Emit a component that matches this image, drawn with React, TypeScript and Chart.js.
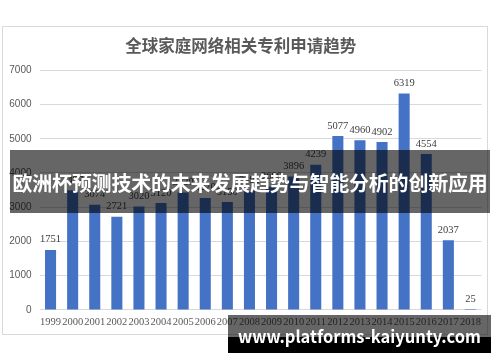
import React, { useEffect, useRef } from "react";
import { Chart, registerables } from "chart.js";

Chart.register(...registerables);

const chartTitle = "全球家庭网络相关专利申请趋势";
const years = ["1999", "2000", "2001", "2002", "2003", "2004", "2005", "2006", "2007", "2008", "2009", "2010", "2011", "2012", "2013", "2014", "2015", "2016", "2017", "2018"];
const applications = [1751, 3497, 3074, 2721, 3020, 3120, 3430, 3270, 3150, 3490, 3600, 3896, 4239, 5077, 4960, 4902, 6319, 4554, 2037, 25];
const bannerText = "欧洲杯预测技术的未来发展趋势与智能分析的创新应用";
const watermarkText = "www.platforms-kaiyunty.com";

const framePlugin = {
  id: "frame",
  beforeDraw(chart: any) {
    const ctx = chart.ctx;
    ctx.save();
    ctx.fillStyle = "#ffffff";
    ctx.fillRect(0, 0, chart.width, chart.height);
    ctx.strokeStyle = "#d9d9d9";
    ctx.lineWidth = 1;
    ctx.strokeRect(2.5, 26.5, 485, 308);
    ctx.restore();
  },
};

const valueLabelPlugin = {
  id: "valueLabels",
  afterDatasetsDraw(chart: any) {
    const ctx = chart.ctx;
    const meta = chart.getDatasetMeta(0);
    const data = chart.data.datasets[0].data;
    ctx.save();
    ctx.font = "10.5px 'Liberation Serif', serif";
    ctx.fillStyle = "#404040";
    ctx.textAlign = "center";
    ctx.textBaseline = "bottom";
    meta.data.forEach((bar: any, i: number) => {
      ctx.fillText(String(data[i]), bar.x, bar.y - 5);
    });
    ctx.restore();
  },
};

export default function App() {
  const canvasRef = useRef<HTMLCanvasElement | null>(null);

  useEffect(() => {
    if (!canvasRef.current) return;
    const chart = new Chart(canvasRef.current, {
      type: "bar",
      data: {
        labels: years,
        datasets: [
          {
            data: applications,
            backgroundColor: "#4472C4",
            borderWidth: 0,
            barPercentage: 0.5,
            categoryPercentage: 1,
          },
        ],
      },
      options: {
        responsive: false,
        animation: false,
        devicePixelRatio: 1,
        layout: { padding: { left: 0, right: 18.5, top: 26, bottom: 26.5 } },
        plugins: {
          legend: { display: false },
          tooltip: { enabled: false },
          title: {
            display: true,
            text: chartTitle,
            color: "#595959",
            font: { family: "'Noto Sans CJK SC', sans-serif", size: 16.5, weight: "bold" },
            padding: { top: 10, bottom: 14.5 },
          },
        },
        scales: {
          x: {
            grid: { display: false, drawTicks: false },
            border: { display: false },
            ticks: {
              autoSkip: false,
              maxRotation: 0,
              minRotation: 0,
              padding: 6.5,
              color: "#595959",
              font: { family: "'Liberation Serif', serif", size: 10.5 },
            },
          },
          y: {
            min: 0,
            max: 7000,
            afterFit: (scale: any) => {
              scale.width = 39.5;
            },
            grid: { color: "#d9d9d9", drawTicks: false },
            border: { display: false },
            ticks: {
              stepSize: 1000,
              padding: 8,
              color: "#595959",
              font: { family: "'Liberation Sans', sans-serif", size: 10 },
              callback: (v: any) => String(v),
            },
          },
        },
      },
      plugins: [framePlugin, valueLabelPlugin],
    });
    return () => chart.destroy();
  }, []);

  return (
    <div style={{ position: "fixed", left: 0, top: 0, width: 500, height: 362, background: "#fff", overflow: "hidden" }}>
      <canvas ref={canvasRef} width={500} height={362} style={{ position: "absolute", left: 0, top: 0, width: 500, height: 362 }} />
      <div
        style={{
          position: "absolute",
          left: 10,
          top: 150,
          width: 480,
          height: 63,
          background: "rgba(0,0,0,0.6)",
          color: "#fff",
          fontFamily: "'Noto Sans CJK SC', sans-serif",
          fontWeight: "bold",
          fontSize: 20,
          lineHeight: "66px",
          textAlign: "center",
          whiteSpace: "nowrap",
          letterSpacing: -0.2,
        }}
      >
        {bannerText}
      </div>
      <div style={{ position: "absolute", left: 228, top: 315, width: 263, height: 22, background: "rgba(0,0,0,0.6)" }} />
      <div style={{ position: "absolute", left: 228, top: 337, width: 263, height: 16, background: "#000" }} />
      <div
        style={{
          position: "absolute",
          left: 228,
          top: 315,
          width: 263,
          height: 38,
          color: "#fff",
          fontFamily: "'Noto Sans CJK SC', sans-serif",
          fontWeight: "bold",
          fontSize: 16.5,
          lineHeight: "42px",
          textAlign: "center",
          whiteSpace: "nowrap",
        }}
      >
        {watermarkText}
      </div>
    </div>
  );
}
